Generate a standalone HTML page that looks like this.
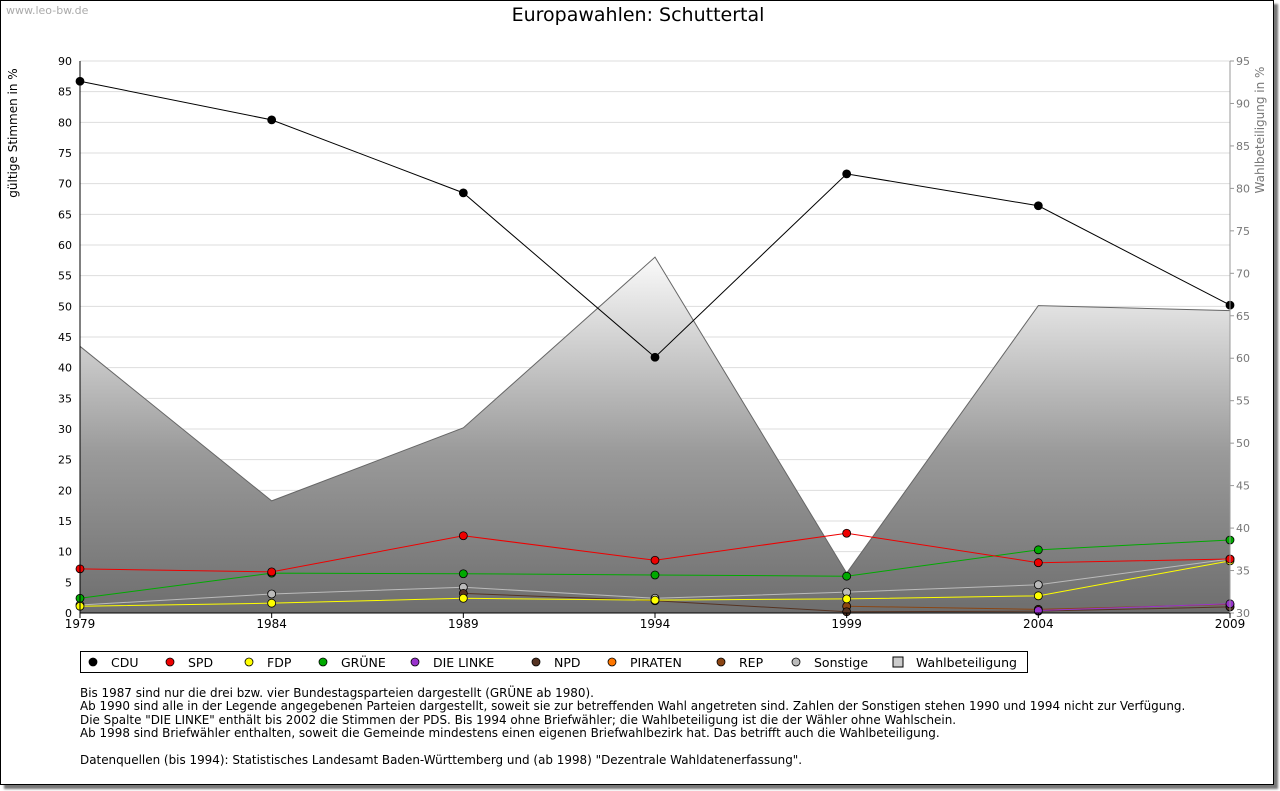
<!DOCTYPE html>
<html><head><meta charset="utf-8"><style>
body{margin:0;background:#fff;font-family:"DejaVu Sans","Liberation Sans",sans-serif}
#frame{position:absolute;left:0;top:0;width:1272px;height:783px;border:1px solid #000;box-shadow:4px 4px 2px #777;background:#fff}
.notes{position:absolute;left:80px;top:687px;font-size:11.95px;line-height:13.4px;color:#000}
svg text{font-family:"DejaVu Sans","Liberation Sans",sans-serif}
</style></head><body>
<div id="frame"></div>
<svg id="c" width="1280" height="791" style="position:absolute;left:0;top:0">
<defs><linearGradient id="g" x1="0" y1="0" x2="0" y2="1"><stop offset="0" stop-color="#fafafa"/><stop offset="0.55" stop-color="#9a9a9a"/><stop offset="1" stop-color="#6e6e6e"/></linearGradient></defs>
<text x="6" y="14" font-size="11" fill="#aaa">www.leo-bw.de</text>
<text x="638" y="21" font-size="19" text-anchor="middle">Europawahlen: Schuttertal</text>
<text transform="translate(17,133) rotate(-90)" font-size="12" text-anchor="middle">gültige Stimmen in %</text>
<text transform="translate(1264,130) rotate(-90)" font-size="12" fill="#777" text-anchor="middle">Wahlbeteiligung in %</text>
<g id="grid"></g><g id="area"></g><g id="lines"></g><g id="axes"></g>
</svg>
<div class="notes">Bis 1987 sind nur die drei bzw. vier Bundestagsparteien dargestellt (GRÜNE ab 1980).<br>Ab 1990 sind alle in der Legende angegebenen Parteien dargestellt, soweit sie zur betreffenden Wahl angetreten sind. Zahlen der Sonstigen stehen 1990 und 1994 nicht zur Verfügung.<br>Die Spalte "DIE LINKE" enthält bis 2002 die Stimmen der PDS. Bis 1994 ohne Briefwähler; die Wahlbeteiligung ist die der Wähler ohne Wahlschein.<br>Ab 1998 sind Briefwähler enthalten, soweit die Gemeinde mindestens einen eigenen Briefwahlbezirk hat. Das betrifft auch die Wahlbeteiligung.<br><br>Datenquellen (bis 1994): Statistisches Landesamt Baden-Württemberg und (ab 1998) "Dezentrale Wahldatenerfassung".</div>
<script>
const years=[1979,1984,1989,1994,1999,2004,2009];
const turnout=[61.4,43.2,51.8,71.9,34.7,66.2,65.6];
const cdu=[86.7,80.4,68.5,41.7,71.6,66.4,50.2];
const spd=[7.2,6.7,12.6,8.6,13.0,8.2,8.8];
const fdp=[1.1,1.6,2.4,2.1,2.3,2.8,8.5];
const gruene=[2.4,6.5,6.4,6.2,6.0,10.3,11.9];
const linke=[null,null,null,null,null,0.4,1.5];
const npd=[null,null,3.2,2.0,0.2,0.3,1.0];
const piraten=[null,null,null,null,null,null,1.0];
const rep=[null,null,null,null,1.1,0.6,1.4];
const sonstige=[1.3,3.1,4.2,2.4,3.4,4.6,8.8];
const leftTicks=[0,5,10,15,20,25,30,35,40,45,50,55,60,65,70,75,80,85,90];
const rightTicks=[30,35,40,45,50,55,60,65,70,75,80,85,90,95];
const series=[["CDU",cdu,"#000"],["SPD",spd,"#e00"],["FDP",fdp,"#ff0"],["GRÜNE",gruene,"#0a0"],["DIE LINKE",linke,"#9933cc"],["NPD",npd,"#553322"],["PIRATEN",piraten,"#ff7700"],["REP",rep,"#8b4513"],["Sonstige",sonstige,"#bbb"]];
const X0=80,X1=1230,Y0=613,Y1=61;
const xs=y=>X0+(y-1979)/30*(X1-X0);
const yl=v=>Y0-v/90*(Y0-Y1);
const yr=v=>Y0-(v-30)/65*(Y0-Y1);
const NS="http://www.w3.org/2000/svg";
function mk(t,a,p){const e=document.createElementNS(NS,t);for(const k in a)e.setAttribute(k,a[k]);document.getElementById(p).appendChild(e);return e;}
leftTicks.forEach(v=>{
 const l=mk("line",{x1:X0,x2:X1,y1:yl(v),y2:yl(v),stroke:"#ddd"},"grid");
 
 
 const t=mk("text",{x:X0-8,y:yl(v)+4,"font-size":11,"text-anchor":"end"},"axes");t.textContent=v;
 
 
});
rightTicks.forEach(v=>{
 const t=mk("text",{x:X1+6,y:yr(v)+4,"font-size":11,fill:"#777"},"axes");t.textContent=v;
 
 
 mk("line",{x1:X1,x2:X1+4,y1:yr(v),y2:yr(v),stroke:"#999"},"axes");
});
let pts=years.map((y,i)=>xs(y)+","+yr(turnout[i])).join(" ");
const ar=mk("polygon",{points:X0+","+Y0+" "+pts+" "+X1+","+Y0,fill:"url(#g)",stroke:"#666"},"area");


mk("line",{x1:X0,x2:X1,y1:Y0,y2:Y0,stroke:"#000"},"axes");
mk("line",{x1:X0,x2:X0,y1:Y1,y2:Y0,stroke:"#000"},"axes");
mk("line",{x1:X1,x2:X1,y1:Y1,y2:Y0,stroke:"#999"},"axes");
years.forEach(y=>{
 mk("line",{x1:xs(y),x2:xs(y),y1:Y0,y2:Y0+5,stroke:"#000"},"axes");
 const t=mk("text",{x:xs(y),y:Y0+15,"font-size":12,"text-anchor":"middle"},"axes");t.textContent=y;
 
 
});
series.slice().reverse().forEach(([n,d,c])=>{
 const p=[];d.forEach((v,i)=>{if(v!=null)p.push(xs(years[i])+","+yl(v));});
 const l=mk("polyline",{points:p.join(" "),fill:"none",stroke:c,"stroke-width":1},"lines");
 
 
 d.forEach((v,i)=>{if(v==null)return;const x=xs(years[i]),y=yl(v);
  const m=mk("circle",{cx:x,cy:y,r:4,fill:c,stroke:"#000","stroke-width":0.8},"lines");
  
  
 });
});
const lg=mk("rect",{x:80.5,y:651.5,width:947,height:21,fill:"#fff",stroke:"#000"},"axes");


const lx=[93,170,249,323,415,536,612,721,796,898];
const items=series.map(s=>[s[0],s[2]]).concat([["Wahlbeteiligung","#ccc"]]);
items.forEach(([n,c],i)=>{const x=lx[i],y=662;
 let m;
 if(i<9)m=mk("circle",{cx:x,cy:y,r:4,fill:c,stroke:"#000","stroke-width":0.8},"axes");
 else m=mk("rect",{x:x-5,y:y-5,width:10,height:10,fill:"#ccc",stroke:"#000"},"axes");
 
 
 const t=mk("text",{x:x+18,y:y+5,"font-size":12.5},"axes");t.textContent=n;
 
 
});
</script>
</body></html>
